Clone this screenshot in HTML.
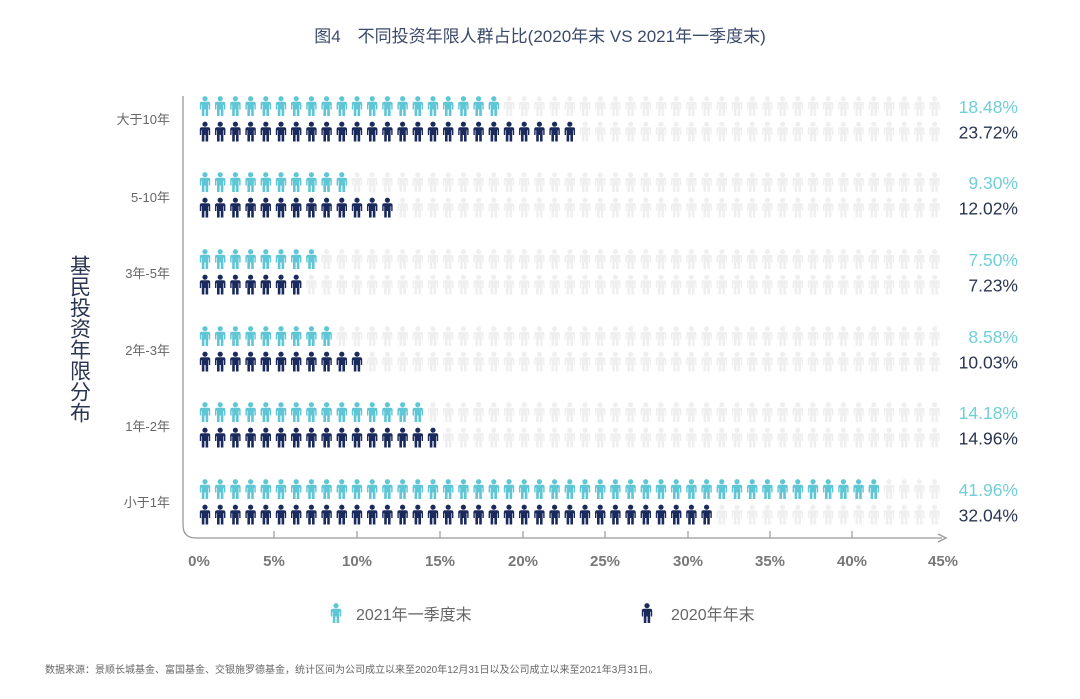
<!DOCTYPE html>
<html><head><meta charset="utf-8">
<style>
body{margin:0;background:#fff;width:1080px;height:694px;overflow:hidden;font-family:"Liberation Sans","Noto Sans CJK SC",sans-serif;}
</style></head><body>
<svg id="s" width="1080" height="694" viewBox="0 0 1080 694" xmlns="http://www.w3.org/2000/svg" font-family="Liberation Sans, Noto Sans CJK SC, sans-serif">
<defs>
<g id="p"><circle cx="0" cy="-7.3" r="2.6"/><path d="M-3.2,-4.2 H3.2 Q5.2,-4.2 5.2,-2.2 V3.5 H3.8 V-1.2 H3.2 V10 H0.6 V3.5 H-0.6 V10 H-3.2 V-1.2 H-3.8 V3.5 H-5.2 V-2.2 Q-5.2,-4.2 -3.2,-4.2 Z"/></g>
</defs>
<text x="540" y="42" text-anchor="middle" font-size="17" fill="#3b4a6b">图4　不同投资年限人群占比(2020年末 VS 2021年一季度末)</text>
<path d="M183,96 V525 Q183,538 196,538 H942" fill="none" stroke="#999" stroke-width="1.3"/>
<path d="M938,534 L946,538 L938,542" fill="none" stroke="#999" stroke-width="1.3"/>
<g id="ticks" stroke="#999" stroke-width="1.2"></g>
<g id="xl" font-size="15" fill="#777" text-anchor="middle" font-weight="bold"></g>
<g id="icons"></g>
<g font-size="13" fill="#666" text-anchor="end">
<text x="170" y="124">大于10年</text>
<text x="170" y="202">5-10年</text>
<text x="170" y="278">3年-5年</text>
<text x="170" y="355">2年-3年</text>
<text x="170" y="431">1年-2年</text>
<text x="170" y="507">小于1年</text>
</g>
<text x="79" y="255" font-size="21" fill="#2a3552" style="writing-mode:tb;" writing-mode="tb">基民投资年限分布</text>
<g id="pct" font-size="17.5" text-anchor="end"></g>
<use href="#p" x="336" y="613" fill="#5ec6d4"/>
<text x="356" y="620" font-size="16" fill="#666">2021年一季度末</text>
<use href="#p" x="647" y="613" fill="#1b2a5c"/>
<text x="671" y="620" font-size="16" fill="#666">2020年年末</text>
<text x="45" y="673" font-size="10" fill="#666">数据来源：景顺长城基金、富国基金、交银施罗德基金，统计区间为公司成立以来至2020年12月31日以及公司成立以来至2021年3月31日。</text>
</svg>
<script>
var NS="http://www.w3.org/2000/svg";
function el(t,a,par){var e=document.createElementNS(NS,t);for(var k in a)e.setAttribute(k,a[k]);document.getElementById(par).appendChild(e);return e;}
var tx=[199,274,357,440,523,605,688,770,852,943];
for(var i=0;i<10;i++){
 if(i>0&&i<9) el("line",{x1:tx[i],x2:tx[i],y1:531,y2:538},"ticks");
 var t=el("text",{x:tx[i],y:566},"xl");t.textContent=(i*5)+"%";
}
var rows=[[106,20,25,"18.48%","23.72%"],[182,10,13,"9.30%","12.02%"],[259,8,7,"7.50%","7.23%"],[336,9,11,"8.58%","10.03%"],[412,15,16,"14.18%","14.96%"],[489,45,34,"41.96%","32.04%"]];
rows.forEach(function(r){
 for(var k=0;k<2;k++){
  var y=r[0]+k*25.5,n=r[1+k];
  for(var j=0;j<49;j++){
   var c=j<n?(k==0?"#5ec6d4":"#1b2a5c"):"#efefef";
   el("use",{href:"#p",x:(205+j*15.2).toFixed(1),y:y,fill:c},"icons");
  }
  var t=el("text",{x:1018,y:y+7,fill:k==0?"#6fcfd8":"#2a3552"},"pct");t.textContent=r[3+k];
 }
});
</script>
</body></html>
